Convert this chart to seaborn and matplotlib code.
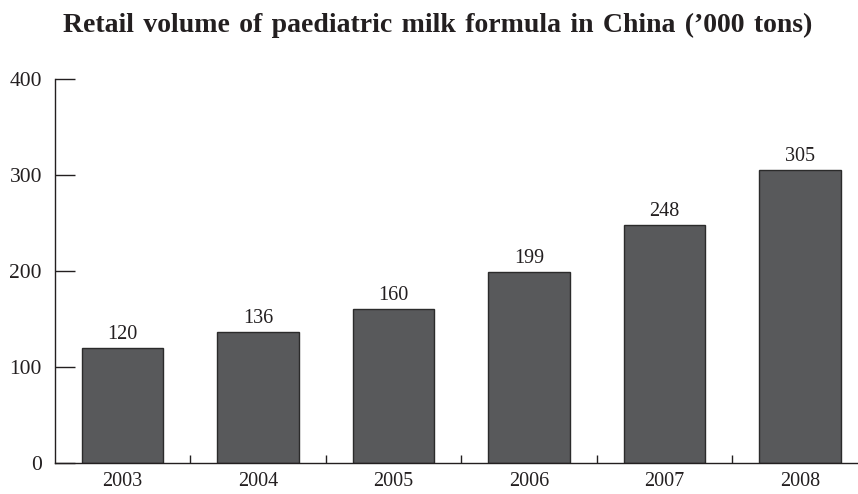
import matplotlib
matplotlib.use("Agg")
import matplotlib.pyplot as plt
from matplotlib.ticker import FixedLocator
import seaborn as sns
import pandas as pd

# Retail volume of paediatric milk formula, thousand tons
years = ["2003", "2004", "2005", "2006", "2007", "2008"]
volumes = [120, 136, 160, 199, 248, 305]
y_ticks = [0, 100, 200, 300, 400]

title = "Retail volume of paediatric milk formula in China (\u2019000 tons)"

sns.set_style("ticks")
plt.rcParams["font.family"] = ["Liberation Serif", "DejaVu Serif"]

ink = "#231f20"
bar_fill = "#58595b"

df = pd.DataFrame({"year": years, "volume": volumes})

fig = plt.figure(figsize=(8.58, 4.94), dpi=100)
ax = fig.add_axes([0.0641, 0.0628, 0.9359, 0.7773])

sns.barplot(data=df, x="year", y="volume", color=bar_fill, width=0.6,
            saturation=1, edgecolor="#2b2b2b", linewidth=1.0, ax=ax)

for container in ax.containers:
    ax.bar_label(container, labels=[str(v) for v in volumes], padding=3,
                 fontsize=14.5, color=ink)

ax.set_ylim(0, 400)
ax.set_xlim(-0.498, 5.428)
ax.set_yticks(y_ticks)
ax.set_yticklabels([str(t) for t in y_ticks])
ax.set_xlabel("")
ax.set_ylabel("")

sns.despine(ax=ax)
for side in ("left", "bottom"):
    ax.spines[side].set_color(ink)
    ax.spines[side].set_linewidth(1.0)

ax.tick_params(axis="y", direction="in", length=14.4, width=1.0, color=ink,
               labelsize=15.5, labelcolor=ink, pad=9.4)
ax.tick_params(axis="x", which="major", length=0, labelsize=14.5,
               labelcolor=ink, pad=6.5)
# small separators between the categories
ax.xaxis.set_minor_locator(FixedLocator([0.5, 1.5, 2.5, 3.5, 4.5]))
ax.tick_params(axis="x", which="minor", direction="in", length=6, width=1.0,
               color=ink)

# widen the word gaps of the heading slightly
spaced_title = title.replace(" ", " \u200a")
fig.text(0.51, 0.949, spaced_title, ha="center", va="center", fontsize=20,
         fontweight="bold", color=ink)

fig.savefig("out.png", dpi=100)
